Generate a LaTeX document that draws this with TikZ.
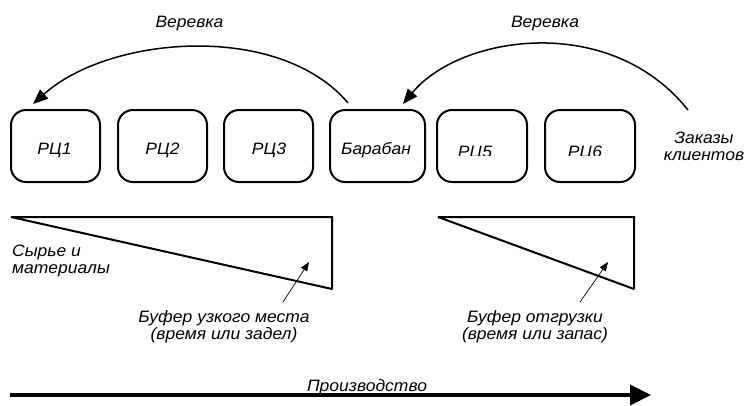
\documentclass[tikz,border=0pt]{standalone}
\usepackage{fontspec}
\setmainfont[FakeStretch=1.06]{Liberation Sans}
\usetikzlibrary{arrows.meta}
\begin{document}
\begin{tikzpicture}[x=1pt,y=-1pt,
  every node/.style={font=\itshape\fontsize{16.5}{17}\selectfont},
  wc/.style={draw,line width=2pt,rounded corners=15pt,minimum height=72pt,
    minimum width=89pt,inner sep=0pt},
  lbl/.style={inner sep=0pt,anchor=base,align=center},
  rope/.style={line width=1.5pt,-{Triangle[length=15pt,width=12pt]}},
  ptr/.style={line width=0.7pt,-{Triangle[length=9pt,width=7pt]}},
  buf/.style={line width=2pt,line join=miter,miter limit=1.5},
  flow/.style={line width=4pt,-{Triangle[length=21pt,width=20pt]}}]
\useasboundingbox (0,0) rectangle (746,405);

% work centres and the drum
\node[wc] (w1) at (55.5,146) {};
\node[wc] (w2) at (162.5,146) {};
\node[wc] (w3) at (268.5,146) {};
\node[wc,minimum width=95pt] (drum) at (377.5,146) {};
\node[wc,minimum width=90pt] (w5) at (482,146) {};
\node[wc,minimum width=90pt] (w6) at (590,146) {};

\node[lbl] (t1) at (54.5,154) {РЦ1};
\node[lbl] (t2) at (162.5,154) {РЦ2};
\node[lbl] (t3) at (269,154) {РЦ3};
\node[lbl] (td) at (376,154) {Барабан};
\begin{scope}
  \clip (430,120) rectangle (640,155);
  \node[lbl] (t5) at (475,157.5) {РЦ5};
  \node[lbl] (t6) at (585,157.5) {РЦ6};
\end{scope}

% ropes
\coordinate (r1s) at (348,103);
\coordinate (r1e) at (33,104);
\draw[rope] (r1s) .. controls (280,22) and (110,35) .. (r1e);
\node[lbl] (rope1) at (189.5,27.5) {Веревка};

\coordinate (r2s) at (688,110);
\coordinate (r2e) at (403,104);
\draw[rope] (r2s) .. controls (610,12) and (460,35) .. (r2e);
\node[lbl] (rope2) at (545,27.5) {Веревка};

% multi-line labels are anchored on the baseline of their last line
\node[lbl] (orders) at (704,160) {Заказы\\клиентов};

% buffers
\coordinate (b1a) at (11,217);
\coordinate (b1b) at (332,217);
\coordinate (b1c) at (332,289);
\draw[buf] (b1a) -- (b1b) -- (b1c) -- cycle;
\coordinate (b2a) at (438,217);
\coordinate (b2b) at (634,217);
\coordinate (b2c) at (634,289);
\draw[buf] (b2a) -- (b2b) -- (b2c) -- cycle;

\node[lbl,align=left,anchor=base west] (raw) at (12,273) {Сырье и\\материалы};

\node[lbl] (buf1) at (224,339) {Буфер узкого места\\(время или задел)};
\node[lbl] (buf2) at (535,339) {Буфер отгрузки\\(время или запас)};
\coordinate (p1s) at (283,302);
\coordinate (p1e) at (309,262);
\draw[ptr] (p1s) -- (p1e);
\coordinate (p2s) at (580,302);
\coordinate (p2e) at (608,262);
\draw[ptr] (p2s) -- (p2e);

% production flow
\node[lbl] (prod) at (367,391) {Производство};
\coordinate (fs) at (10,395);
\coordinate (fe) at (651,395);
\draw[flow] (fs) -- (fe);
\end{tikzpicture}
\end{document}
